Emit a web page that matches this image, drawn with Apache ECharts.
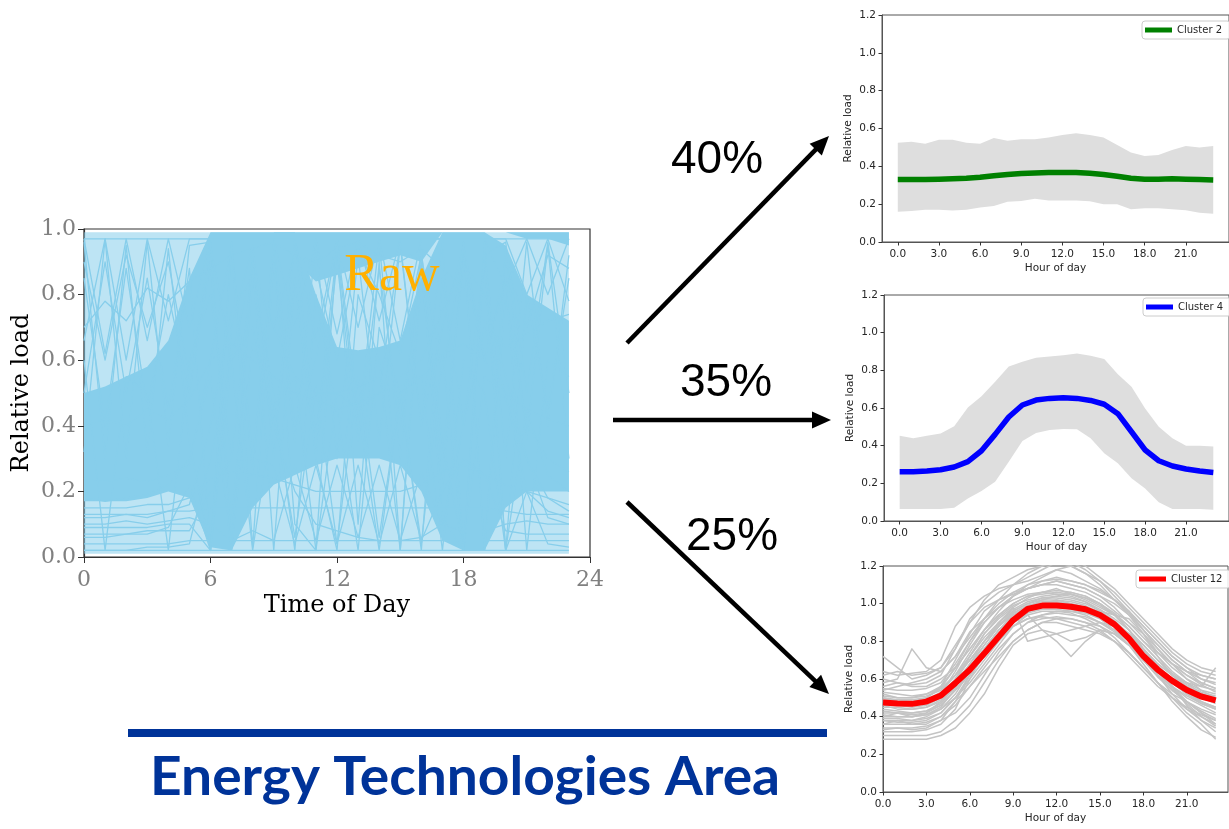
<!DOCTYPE html>
<html>
<head>
<meta charset="utf-8">
<script src="https://cdn.jsdelivr.net/npm/echarts@6/dist/echarts.min.js"></script>
<style>
html,body{margin:0;padding:0;background:#fff;}
#c{width:1229px;height:829px;}
</style>
</head>
<body>
<div id="c"></div>
<script>
// Hours of the day sampled by every profile
const hours = [0,1,2,3,4,5,6,7,8,9,10,11,12,13,14,15,16,17,18,19,20,21,22,23];
const rawTicks = [0,6,12,18,24];
const clusterTicks = [0,3,6,9,12,15,18,21];
const shares = [40, 35, 25];
const clusterNames = ['Cluster 2', 'Cluster 4', 'Cluster 12'];

// Raw load profiles: envelope, dense regions and individual traces
const rawUpper   = [0.99,0.99,0.99,0.99,0.99,0.99,0.99,0.99,0.99,0.99,0.99,0.99,0.99,0.99,0.99,0.99,0.99,0.99,0.99,0.99,0.99,0.99,0.99,0.99];
const rawLower   = [0.01,0.01,0.01,0.01,0.01,0.01,0.01,0.01,0.01,0.01,0.01,0.01,0.01,0.01,0.01,0.01,0.01,0.01,0.01,0.01,0.01,0.01,0.01,0.01];
const rawMidLow  = [0.17,0.17,0.17,0.18,0.20,0.18,0.03,0.02,0.15,0.22,0.25,0.28,0.30,0.30,0.30,0.28,0.20,0.05,0.02,0.02,0.15,0.20,0.20,0.20];
const rawMidHigh = [0.50,0.52,0.55,0.58,0.66,0.85,0.99,0.99,0.99,0.99,0.99,0.80,0.64,0.63,0.64,0.66,0.85,0.99,0.99,0.99,0.95,0.80,0.76,0.72];
const rawTopLow  = [0.99,0.99,0.99,0.99,0.99,0.99,0.99,0.99,0.99,0.99,0.90,0.84,0.86,0.88,0.90,0.92,0.90,0.99,0.99,0.99,0.99,0.97,0.97,0.95];
const rawTraces = [
  [0.96,0.30,0.95,0.32,0.94,0.35,0.02,0.96,0.25,0.90,0.35,0.96,0.30,0.92,0.35,0.95,0.40,0.96,0.02,0.94,0.30,0.96,0.40,0.92],
  [0.32,0.97,0.30,0.96,0.34,0.95,0.96,0.02,0.94,0.30,0.97,0.36,0.94,0.40,0.96,0.30,0.94,0.20,0.96,0.02,0.94,0.36,0.95,0.30],
  [0.85,0.40,0.88,0.45,0.80,0.50,0.90,0.10,0.85,0.50,0.02,0.80,0.45,0.02,0.70,0.50,0.02,0.85,0.40,0.90,0.02,0.80,0.45,0.85],
  [0.18,0.17,0.18,0.19,0.22,0.30,0.55,0.02,0.65,0.45,0.55,0.02,0.50,0.45,0.02,0.50,0.55,0.02,0.60,0.50,0.02,0.45,0.25,0.20],
  [0.06,0.06,0.07,0.07,0.09,0.22,0.02,0.60,0.02,0.45,0.06,0.52,0.04,0.55,0.06,0.50,0.04,0.62,0.02,0.55,0.48,0.30,0.12,0.10],
  [0.70,0.78,0.72,0.82,0.78,0.84,0.88,0.92,0.94,0.96,0.92,0.90,0.94,0.96,0.92,0.90,0.94,0.88,0.82,0.72,0.64,0.68,0.72,0.74],
  [0.02,0.02,0.02,0.03,0.03,0.04,0.30,0.60,0.70,0.40,0.20,0.10,0.08,0.06,0.05,0.05,0.06,0.10,0.40,0.70,0.50,0.20,0.04,0.03],
  [0.12,0.12,0.13,0.12,0.14,0.16,0.40,0.75,0.85,0.70,0.55,0.50,0.50,0.52,0.55,0.55,0.60,0.75,0.90,0.80,0.55,0.30,0.18,0.14],
  [0.24,0.23,0.24,0.23,0.25,0.28,0.60,0.95,0.30,0.96,0.40,0.60,0.96,0.45,0.50,0.96,0.40,0.70,0.95,0.02,0.80,0.40,0.30,0.26],
  [0.60,0.02,0.55,0.50,0.02,0.60,0.80,0.30,0.90,0.02,0.85,0.30,0.02,0.80,0.60,0.02,0.85,0.30,0.90,0.60,0.85,0.02,0.60,0.55],
  [0.90,0.60,0.92,0.70,0.90,0.55,0.95,0.60,0.90,0.70,0.92,0.88,0.60,0.94,0.80,0.62,0.92,0.55,0.95,0.60,0.90,0.70,0.92,0.88],
  [0.40,0.42,0.40,0.45,0.42,0.48,0.60,0.65,0.60,0.55,0.50,0.48,0.45,0.47,0.50,0.52,0.55,0.62,0.65,0.60,0.50,0.45,0.42,0.40],
  [0.09,0.09,0.09,0.09,0.10,0.10,0.02,0.95,0.03,0.90,0.10,0.02,0.96,0.10,0.90,0.02,0.90,0.12,0.02,0.96,0.02,0.20,0.14,0.12],
  [0.04,0.04,0.04,0.04,0.04,0.05,0.05,0.05,0.05,0.05,0.05,0.05,0.05,0.05,0.05,0.05,0.05,0.05,0.05,0.05,0.05,0.05,0.05,0.05],
  [0.02,0.02,0.02,0.02,0.02,0.02,0.02,0.02,0.02,0.02,0.02,0.02,0.02,0.02,0.02,0.02,0.02,0.02,0.02,0.02,0.02,0.02,0.02,0.02],
  [0.15,0.15,0.15,0.16,0.16,0.18,0.24,0.26,0.25,0.24,0.22,0.20,0.20,0.20,0.20,0.20,0.22,0.26,0.28,0.25,0.22,0.20,0.18,0.16],
  [0.97,0.97,0.97,0.97,0.97,0.97,0.97,0.97,0.97,0.97,0.97,0.97,0.97,0.97,0.97,0.97,0.97,0.97,0.97,0.97,0.97,0.97,0.97,0.97],
  [0.50,0.90,0.50,0.85,0.45,0.88,0.02,0.70,0.95,0.40,0.85,0.30,0.90,0.35,0.88,0.40,0.90,0.35,0.02,0.92,0.96,0.50,0.96,0.50],
  [0.97,0.62,0.97,0.66,0.97,0.70,0.97,0.97,0.97,0.97,0.97,0.66,0.97,0.70,0.97,0.66,0.97,0.97,0.97,0.97,0.97,0.80,0.97,0.78],
  [0.66,0.97,0.60,0.97,0.72,0.97,0.97,0.97,0.97,0.97,0.70,0.97,0.68,0.97,0.72,0.97,0.97,0.97,0.97,0.97,0.82,0.97,0.80,0.97],
  [0.10,0.10,0.11,0.10,0.11,0.12,0.10,0.05,0.08,0.05,0.28,0.05,0.28,0.06,0.28,0.05,0.26,0.10,0.08,0.08,0.10,0.11,0.10,0.10],
  [0.07,0.07,0.07,0.08,0.08,0.08,0.20,0.30,0.30,0.28,0.04,0.28,0.04,0.28,0.04,0.28,0.05,0.20,0.30,0.25,0.08,0.07,0.07,0.07],
  [0.13,0.13,0.13,0.13,0.14,0.14,0.15,0.15,0.15,0.15,0.15,0.15,0.15,0.15,0.15,0.15,0.15,0.15,0.15,0.15,0.14,0.13,0.13,0.13]
];

// Cluster 2: mean profile and spread band
const c2Mean  = [0.330,0.330,0.330,0.332,0.335,0.337,0.342,0.350,0.357,0.362,0.365,0.367,0.368,0.367,0.363,0.357,0.348,0.337,0.332,0.332,0.334,0.332,0.330,0.328];
const c2Upper = [0.525,0.530,0.520,0.540,0.540,0.525,0.520,0.550,0.535,0.543,0.543,0.552,0.566,0.575,0.566,0.553,0.513,0.473,0.455,0.460,0.487,0.508,0.500,0.508];
const c2Lower = [0.160,0.164,0.170,0.170,0.166,0.170,0.183,0.190,0.213,0.217,0.228,0.220,0.220,0.219,0.215,0.200,0.200,0.173,0.178,0.178,0.173,0.168,0.155,0.150];

// Cluster 4: mean profile and spread band
const c4Mean  = [0.262,0.262,0.265,0.272,0.287,0.315,0.373,0.460,0.552,0.616,0.642,0.651,0.655,0.651,0.640,0.620,0.570,0.474,0.377,0.320,0.292,0.276,0.265,0.258];
const c4Upper = [0.453,0.439,0.453,0.464,0.503,0.602,0.662,0.740,0.820,0.846,0.867,0.873,0.880,0.890,0.877,0.860,0.779,0.713,0.598,0.500,0.439,0.400,0.400,0.396];
const c4Lower = [0.064,0.064,0.064,0.064,0.071,0.120,0.159,0.209,0.315,0.425,0.467,0.483,0.488,0.487,0.439,0.360,0.306,0.227,0.173,0.100,0.064,0.064,0.064,0.060];

// Cluster 12: mean profile and member days
const c12Mean = [0.475,0.470,0.468,0.480,0.512,0.578,0.649,0.735,0.825,0.913,0.972,0.990,0.990,0.984,0.970,0.940,0.890,0.816,0.722,0.649,0.590,0.542,0.507,0.486];
const c12Members = [
  [0.72,0.66,0.60,0.62,0.66,0.78,0.90,0.98,1.02,1.05,1.08,1.10,1.12,1.10,1.08,1.04,0.98,0.90,0.82,0.74,0.68,0.64,0.62,0.60],
  [0.64,0.62,0.63,0.64,0.70,0.88,0.98,1.04,1.08,1.10,1.12,1.15,1.18,1.16,1.12,1.08,1.02,0.95,0.86,0.78,0.70,0.64,0.60,0.58],
  [0.58,0.60,0.76,0.66,0.64,0.72,0.85,0.92,0.98,1.02,1.05,1.06,1.08,1.05,1.02,0.98,0.94,0.88,0.80,0.74,0.68,0.62,0.58,0.55],
  [0.52,0.50,0.50,0.52,0.56,0.66,0.76,0.86,0.94,1.00,1.04,1.06,1.05,1.04,1.01,0.96,0.90,0.82,0.74,0.66,0.60,0.56,0.52,0.50],
  [0.48,0.46,0.45,0.46,0.50,0.58,0.68,0.78,0.88,0.96,1.00,1.02,1.02,1.01,0.99,0.95,0.90,0.82,0.72,0.64,0.58,0.54,0.50,0.47],
  [0.44,0.43,0.42,0.43,0.46,0.54,0.62,0.72,0.84,0.92,0.96,0.98,0.98,0.97,0.95,0.92,0.86,0.78,0.70,0.62,0.56,0.51,0.47,0.44],
  [0.40,0.40,0.40,0.41,0.44,0.50,0.58,0.68,0.78,0.88,0.94,0.96,0.96,0.95,0.92,0.88,0.82,0.74,0.66,0.58,0.52,0.48,0.44,0.41],
  [0.36,0.36,0.36,0.37,0.40,0.46,0.56,0.66,0.76,0.84,0.90,0.92,0.93,0.92,0.90,0.86,0.80,0.72,0.64,0.56,0.50,0.45,0.41,0.38],
  [0.32,0.32,0.32,0.33,0.36,0.44,0.60,0.74,0.82,0.88,0.92,0.94,0.95,0.94,0.93,0.90,0.86,0.80,0.72,0.62,0.52,0.44,0.38,0.34],
  [0.30,0.30,0.30,0.30,0.32,0.38,0.46,0.58,0.70,0.80,0.86,0.90,0.90,0.88,0.86,0.84,0.80,0.74,0.66,0.58,0.48,0.40,0.33,0.29],
  [0.28,0.28,0.28,0.28,0.30,0.34,0.42,0.52,0.66,0.78,0.84,0.86,0.84,0.80,0.82,0.86,0.84,0.78,0.68,0.58,0.50,0.42,0.36,0.28],
  [0.55,0.54,0.54,0.55,0.58,0.68,0.80,0.90,0.98,1.04,1.10,1.14,1.18,1.20,1.16,1.10,1.02,0.94,0.84,0.74,0.66,0.60,0.56,0.54],
  [0.46,0.47,0.48,0.50,0.56,0.70,0.84,0.96,1.02,1.06,1.08,1.10,1.10,1.08,1.06,1.02,0.96,0.90,0.84,0.76,0.68,0.60,0.54,0.50],
  [0.50,0.48,0.47,0.48,0.52,0.60,0.72,0.84,0.92,0.98,0.80,0.82,0.84,0.86,0.88,0.90,0.88,0.84,0.78,0.70,0.62,0.56,0.52,0.50],
  [0.42,0.42,0.41,0.42,0.46,0.54,0.64,0.74,0.84,0.90,0.94,0.86,0.80,0.72,0.80,0.86,0.84,0.78,0.70,0.62,0.56,0.50,0.46,0.42],
  [0.38,0.38,0.38,0.40,0.44,0.52,0.64,0.76,0.86,0.92,0.98,1.02,1.04,1.06,1.04,1.00,0.94,0.86,0.76,0.66,0.56,0.48,0.42,0.38],
  [0.60,0.58,0.57,0.58,0.62,0.76,0.92,1.00,1.06,1.10,1.14,1.18,1.22,1.20,1.16,1.12,1.06,0.98,0.90,0.82,0.74,0.68,0.64,0.62],
  [0.34,0.34,0.34,0.35,0.38,0.42,0.50,0.62,0.74,0.84,0.90,0.94,0.96,0.96,0.95,0.93,0.90,0.84,0.76,0.66,0.56,0.46,0.38,0.32],
  [0.53,0.52,0.51,0.52,0.55,0.62,0.72,0.82,0.90,0.96,1.00,1.03,1.04,1.03,1.01,0.97,0.92,0.86,0.78,0.70,0.63,0.58,0.54,0.52],
  [0.45,0.45,0.44,0.45,0.48,0.56,0.66,0.76,0.86,0.94,0.98,1.00,1.00,0.99,0.97,0.94,0.88,0.80,0.72,0.64,0.58,0.52,0.48,0.45],
  [0.49,0.49,0.48,0.49,0.53,0.62,0.74,0.86,0.94,1.00,1.04,1.05,1.06,1.05,1.03,0.99,0.94,0.86,0.76,0.68,0.62,0.58,0.56,0.66],
  [0.40,0.42,0.40,0.42,0.48,0.60,0.70,0.80,0.88,0.94,0.98,1.00,1.02,1.00,0.98,0.96,0.94,0.92,0.84,0.72,0.62,0.54,0.48,0.44],
  [0.36,0.38,0.36,0.36,0.40,0.48,0.56,0.64,0.72,0.80,0.86,0.90,0.92,0.92,0.90,0.88,0.84,0.78,0.70,0.62,0.54,0.48,0.42,0.36],
  [0.56,0.58,0.56,0.56,0.60,0.66,0.76,0.86,0.96,1.04,1.08,1.12,1.14,1.12,1.10,1.06,1.02,0.96,0.88,0.80,0.72,0.66,0.62,0.60],
  [0.47,0.46,0.46,0.47,0.50,0.60,0.70,0.80,0.90,0.97,1.01,1.03,1.03,1.02,1.00,0.96,0.91,0.84,0.75,0.67,0.60,0.55,0.51,0.48],
  [0.43,0.42,0.42,0.43,0.47,0.56,0.66,0.78,0.88,0.95,0.99,1.01,1.01,1.00,0.98,0.94,0.88,0.81,0.73,0.65,0.58,0.52,0.47,0.44],
  [0.51,0.50,0.50,0.51,0.54,0.62,0.70,0.80,0.90,0.98,1.03,1.06,1.07,1.06,1.04,1.00,0.94,0.86,0.76,0.68,0.62,0.57,0.53,0.51],
  [0.38,0.37,0.37,0.38,0.42,0.50,0.62,0.72,0.82,0.90,0.95,0.97,0.97,0.96,0.94,0.90,0.85,0.78,0.70,0.61,0.54,0.48,0.43,0.39],
  [0.50,0.49,0.49,0.50,0.55,0.66,0.80,0.92,1.02,1.10,1.16,1.20,1.24,1.22,1.18,1.12,1.04,0.96,0.86,0.76,0.68,0.62,0.57,0.53],
  [0.54,0.56,0.58,0.60,0.64,0.72,0.82,0.92,1.00,1.06,1.10,1.12,1.13,1.12,1.10,1.07,1.02,0.96,0.88,0.80,0.72,0.66,0.60,0.57],
  [0.46,0.44,0.44,0.45,0.49,0.58,0.72,0.84,0.93,0.99,1.02,1.04,1.05,1.05,1.03,1.00,0.95,0.88,0.80,0.72,0.64,0.58,0.52,0.49],
  [0.41,0.40,0.40,0.41,0.45,0.55,0.68,0.80,0.89,0.95,0.99,1.00,1.01,0.99,0.97,0.93,0.88,0.82,0.74,0.66,0.59,0.53,0.48,0.45],
  [0.33,0.34,0.33,0.34,0.38,0.48,0.62,0.76,0.86,0.92,0.96,0.98,0.99,0.98,0.96,0.93,0.88,0.82,0.74,0.64,0.55,0.47,0.40,0.35],
  [0.62,0.64,0.62,0.63,0.66,0.76,0.90,1.02,1.10,1.14,1.18,1.20,1.22,1.24,1.20,1.14,1.08,1.00,0.92,0.84,0.76,0.70,0.66,0.64],
  [0.48,0.47,0.47,0.48,0.52,0.64,0.78,0.90,0.98,1.04,1.08,1.10,1.12,1.10,1.08,1.04,1.00,0.94,0.86,0.78,0.70,0.64,0.58,0.55],
  [0.39,0.39,0.38,0.39,0.42,0.50,0.60,0.70,0.80,0.88,0.92,0.93,0.92,0.90,0.88,0.85,0.80,0.74,0.66,0.58,0.50,0.44,0.40,0.36]
];

const SKY = '#87CEEB';
const pairs = arr => hours.map((h, i) => [h, arr[i]]);

// Filled region between two per-hour profiles
function bandSeries(lo, hi, xi, yi, fill, z) {
  return {
    type: 'custom', xAxisIndex: xi, yAxisIndex: yi, silent: true, z: z,
    data: [[0, 0]],
    renderItem: function (params, api) {
      const pts = [];
      hours.forEach((h, i) => pts.push(api.coord([h, hi[i]])));
      for (let i = hours.length - 1; i >= 0; i--) pts.push(api.coord([hours[i], lo[i]]));
      return { type: 'polygon', shape: { points: pts }, style: { fill: fill } };
    }
  };
}

function lineSeries(name, arr, xi, yi, color, width, z) {
  return {
    type: 'line', name: name, xAxisIndex: xi, yAxisIndex: yi, data: pairs(arr),
    showSymbol: false, symbol: 'none', silent: true, z: z, clip: true,
    color: color, itemStyle: { color: color },
    lineStyle: { color: color, width: width, join: 'round' }
  };
}

const sansLabel = { fontSize: 10.5, color: '#262626', fontFamily: 'DejaVu Sans' };

function clusterX(gi, min, max) {
  return {
    type: 'value', gridIndex: gi, min: min, max: max,
    axisLine: { show: true, onZero: false, lineStyle: { color: '#555', width: 1 } },
    splitLine: { show: false },
    axisTick: { show: true, customValues: clusterTicks, length: 3.5, lineStyle: { color: '#333' } },
    axisLabel: Object.assign({ customValues: clusterTicks, formatter: v => v.toFixed(1), margin: 7 }, sansLabel),
    name: 'Hour of day', nameLocation: 'middle', nameGap: 21, nameTextStyle: sansLabel
  };
}
function clusterY(gi) {
  return {
    type: 'value', gridIndex: gi, min: 0, max: 1.2, interval: 0.2,
    axisLine: { show: true, onZero: false, lineStyle: { color: '#555', width: 1 } },
    splitLine: { show: false },
    axisTick: { show: true, length: 3.5, lineStyle: { color: '#333' } },
    axisLabel: Object.assign({ formatter: v => v.toFixed(1), margin: 6 }, sansLabel),
    name: 'Relative load', nameLocation: 'middle', nameRotate: 90, nameGap: 28, nameTextStyle: sansLabel
  };
}
function clusterLegend(name, left, top) {
  return {
    data: [name], left: left, top: top, icon: 'rect', itemWidth: 27, itemHeight: 5, itemGap: 5,
    padding: [4, 8, 4, 3], borderColor: '#ccc', borderWidth: 1, borderRadius: 3,
    backgroundColor: 'rgba(255,255,255,0.85)',
    textStyle: { fontSize: 10, color: '#262626', fontFamily: 'DejaVu Sans' }, selectedMode: false
  };
}

function arrow(x1, y1, x2, y2) {
  const dx = x2 - x1, dy = y2 - y1, len = Math.hypot(dx, dy);
  const ux = dx / len, uy = dy / len, px = -uy, py = ux;
  const L = 19, W = 8.5;
  const bx = x2 - ux * L, by = y2 - uy * L;
  return [
    { type: 'line', shape: { x1: x1, y1: y1, x2: bx + ux * 2, y2: by + uy * 2 }, style: { stroke: '#000', lineWidth: 4.5 }, z: 10 },
    { type: 'polygon', shape: { points: [[x2, y2], [bx + px * W, by + py * W], [bx - px * W, by - py * W]] }, style: { fill: '#000' }, z: 10 }
  ];
}

const serifTick = { fontFamily: 'DejaVu Serif', fontSize: 22, color: '#808080' };
const serifName = { fontFamily: 'DejaVu Serif', fontSize: 24, color: '#000' };

const series = [];
// Raw profiles
series.push(bandSeries(rawLower, rawUpper, 0, 0, 'rgba(135,206,235,0.55)', 1));
series.push(bandSeries(rawMidLow, rawMidHigh, 0, 0, SKY, 2));
series.push(bandSeries(rawTopLow, rawUpper, 0, 0, SKY, 2));
rawTraces.forEach(t => series.push(lineSeries('', t, 0, 0, SKY, 1.3, 3)));
// Cluster 2
series.push(bandSeries(c2Lower, c2Upper, 1, 1, '#dedede', 1));
series.push(lineSeries(clusterNames[0], c2Mean, 1, 1, '#008000', 5.5, 4));
// Cluster 4
series.push(bandSeries(c4Lower, c4Upper, 2, 2, '#dedede', 1));
series.push(lineSeries(clusterNames[1], c4Mean, 2, 2, '#0000ff', 5.5, 4));
// Cluster 12
c12Members.forEach(m => series.push(lineSeries('', m, 3, 3, '#c4c4c4', 1.5, 2)));
series.push(lineSeries(clusterNames[2], c12Mean, 3, 3, '#ff0000', 6, 4));

// Banner text width fitted to the banner line
const bannerText = 'Energy Technologies Area';
const bannerFont = 'bold 54px Lato';
const mc = document.createElement('canvas').getContext('2d');
mc.font = bannerFont;
const bannerScale = 630 / mc.measureText(bannerText).width;

const graphics = [].concat(
  arrow(627, 343, 829, 136),
  arrow(613, 420, 831, 420),
  arrow(627, 502, 829, 694),
  [
    { type: 'text', x: 717, y: 160, z: 11, style: { text: shares[0] + '%', font: '46px "Liberation Sans"', fill: '#000', align: 'center', verticalAlign: 'middle' } },
    { type: 'text', x: 726, y: 383, z: 11, style: { text: shares[1] + '%', font: '46px "Liberation Sans"', fill: '#000', align: 'center', verticalAlign: 'middle' } },
    { type: 'text', x: 732, y: 537, z: 11, style: { text: shares[2] + '%', font: '46px "Liberation Sans"', fill: '#000', align: 'center', verticalAlign: 'middle' } },
    { type: 'text', x: 392, y: 276, z: 11, style: { text: 'Raw', font: '52px "Liberation Serif"', fill: '#FFB000', align: 'center', verticalAlign: 'middle' } },
    { type: 'rect', shape: { x: 128, y: 729, width: 699, height: 8 }, style: { fill: '#003399' }, z: 10 },
    { type: 'text', x: 150, y: 778, scaleX: bannerScale, z: 11, style: { text: bannerText, font: bannerFont, fill: '#003399', align: 'left', verticalAlign: 'middle' } }
  ]
);

const option = {
  animation: false,
  backgroundColor: '#fff',
  grid: [
    { left: 84, top: 229, width: 506, height: 328, show: true, borderColor: '#333', borderWidth: 1.2, backgroundColor: 'transparent' },
    { left: 882, top: 15, width: 358, height: 227, show: true, borderColor: '#555', borderWidth: 1, backgroundColor: 'transparent' },
    { left: 884, top: 295, width: 358, height: 226, show: true, borderColor: '#555', borderWidth: 1, backgroundColor: 'transparent' },
    { left: 883, top: 566, width: 345, height: 226, show: true, borderColor: '#555', borderWidth: 1, backgroundColor: 'transparent' }
  ],
  xAxis: [
    {
      type: 'value', gridIndex: 0, min: 0, max: 24, interval: 6,
      axisLine: { show: true, onZero: false, lineStyle: { color: '#333', width: 1.2 } },
      splitLine: { show: false },
      axisTick: { show: true, length: 6, lineStyle: { color: '#333' } },
      axisLabel: Object.assign({ margin: 12, customValues: rawTicks }, serifTick),
      name: 'Time of Day', nameLocation: 'middle', nameGap: 37, nameTextStyle: serifName
    },
    clusterX(1, -1.15, 24.15),
    clusterX(2, -1.15, 24.15),
    clusterX(3, 0, 23.85)
  ],
  yAxis: [
    {
      type: 'value', gridIndex: 0, min: 0, max: 1, interval: 0.2,
      axisLine: { show: true, onZero: false, lineStyle: { color: '#333', width: 1.2 } },
      splitLine: { show: false },
      axisTick: { show: true, length: 6, lineStyle: { color: '#333' } },
      axisLabel: Object.assign({ margin: 8, formatter: v => v.toFixed(1) }, serifTick),
      name: 'Relative load', nameLocation: 'middle', nameRotate: 90, nameGap: 50, nameTextStyle: serifName
    },
    clusterY(1), clusterY(2), clusterY(3)
  ],
  legend: [
    clusterLegend(clusterNames[0], 1142, 21),
    clusterLegend(clusterNames[1], 1143, 298),
    clusterLegend(clusterNames[2], 1136, 570)
  ],
  series: series,
  graphic: graphics
};

const chart = echarts.init(document.getElementById('c'), null, { renderer: 'canvas' });
chart.setOption(option);
</script>
</body>
</html>
